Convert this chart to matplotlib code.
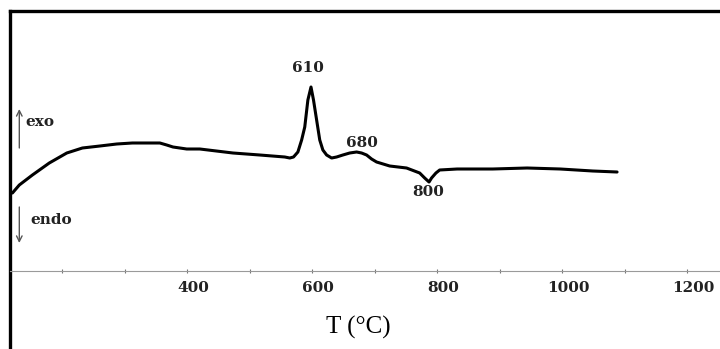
import numpy as np
import matplotlib
matplotlib.use('Agg')
import matplotlib.pyplot as plt
import matplotlib.transforms as mtransforms
from matplotlib.ticker import MultipleLocator, FixedLocator

"""
DTA curve: exo / endo heat flow vs temperature.
"""

# temperature (deg C) and DTA signal (a.u.)
temp = [120, 131, 152, 179, 207, 232, 260, 287, 312, 356, 367, 377, 399, 420,
        473, 516, 556, 564, 570, 577, 583, 588, 593, 598, 602, 607, 612, 617,
        623, 631, 639, 649, 660, 671, 679, 687, 695, 703, 724, 751, 772, 780,
        787, 791, 798, 804, 832, 889, 944, 997, 1049, 1088]
signal = [7.8, 8.6, 9.6, 10.8, 11.8, 12.3, 12.5, 12.7, 12.8, 12.8, 12.6, 12.4, 12.2, 12.2,
          11.8, 11.6, 11.4, 11.3, 11.4, 11.9, 13.1, 14.4, 17.1, 18.4, 17.1, 15.1, 13.1, 12.1,
          11.6, 11.3, 11.4, 11.6, 11.8, 11.9, 11.8, 11.6, 11.2, 10.9, 10.5, 10.3, 9.8, 9.3,
          8.9, 9.3, 9.8, 10.1, 10.2, 10.2, 10.3, 10.2, 10.0, 9.9]

major_ticks = [400, 600, 800, 1000, 1200]
peak_labels = ['610', '680', '800']
peak_temps = [598, 671, 787]
peak_offsets = [(-2, 14), (3.5, 6.5), (-0.7, -7.5)]   # points, label centre

serif = ['DejaVu Serif']
tnr = ['Liberation Serif', 'DejaVu Serif']

fig = plt.figure(figsize=(7.2, 3.49), dpi=100)
ax = fig.add_axes([9.5 / 720, 0, 1 - 9.5 / 720, 1 - 11 / 349])

ax.plot(temp, signal, color='black', lw=2.2, solid_joinstyle='round', solid_capstyle='round')

ax.set_xlim(115.3, 1252.8)
ax.set_ylim(-7.8, 26.0)

for s in ['left', 'top']:
    ax.spines[s].set_linewidth(2.4)
    ax.spines[s].set_color('black')
ax.spines['right'].set_visible(False)
ax.spines['bottom'].set_position(('data', 0))
ax.spines['bottom'].set_color('#9a9a9a')
ax.spines['bottom'].set_linewidth(0.8)

ax.xaxis.set_major_locator(FixedLocator(major_ticks))
ax.xaxis.set_minor_locator(MultipleLocator(100))
ax.tick_params(axis='x', which='both', direction='inout', length=2.5, width=0.8,
               color='#777777', pad=6)
ax.set_yticks([])
# labels in the original sit a little right of their ticks
shift = mtransforms.ScaledTranslation(6 / 100, 0, fig.dpi_scale_trans)
for lab in ax.get_xticklabels():
    lab.set_family(serif)
    lab.set_fontweight('bold')
    lab.set_fontsize(11)
    lab.set_color('#222222')
    lab.set_transform(lab.get_transform() + shift)

for lab, t, off in zip(peak_labels, peak_temps, peak_offsets):
    y = signal[temp.index(t)]
    ax.annotate(lab, xy=(t, y), xytext=off, textcoords='offset points',
                ha='center', va='center',
                family=serif, fontweight='bold', fontsize=11, color='#222222')

# exo / endo arrows
ax.annotate('', xy=(131, 16.2), xytext=(131, 12.3),
            arrowprops=dict(arrowstyle='->', color='#555555', lw=1.0, shrinkA=0, shrinkB=0))
ax.text(141, 14.9, 'exo', family=serif, fontweight='bold', fontsize=11,
        color='#222222', va='center', ha='left')
ax.annotate('', xy=(131, 2.8), xytext=(131, 6.4),
            arrowprops=dict(arrowstyle='->', color='#555555', lw=1.0, shrinkA=0, shrinkB=0))
ax.text(148, 5.1, 'endo', family=serif, fontweight='bold', fontsize=11,
        color='#222222', va='center', ha='left')

fig.text(358 / 720, 1 - 327 / 349, 'T (°C)', family=tnr, fontsize=18,
         ha='center', va='center')

fig.savefig('out.png', dpi=100)
